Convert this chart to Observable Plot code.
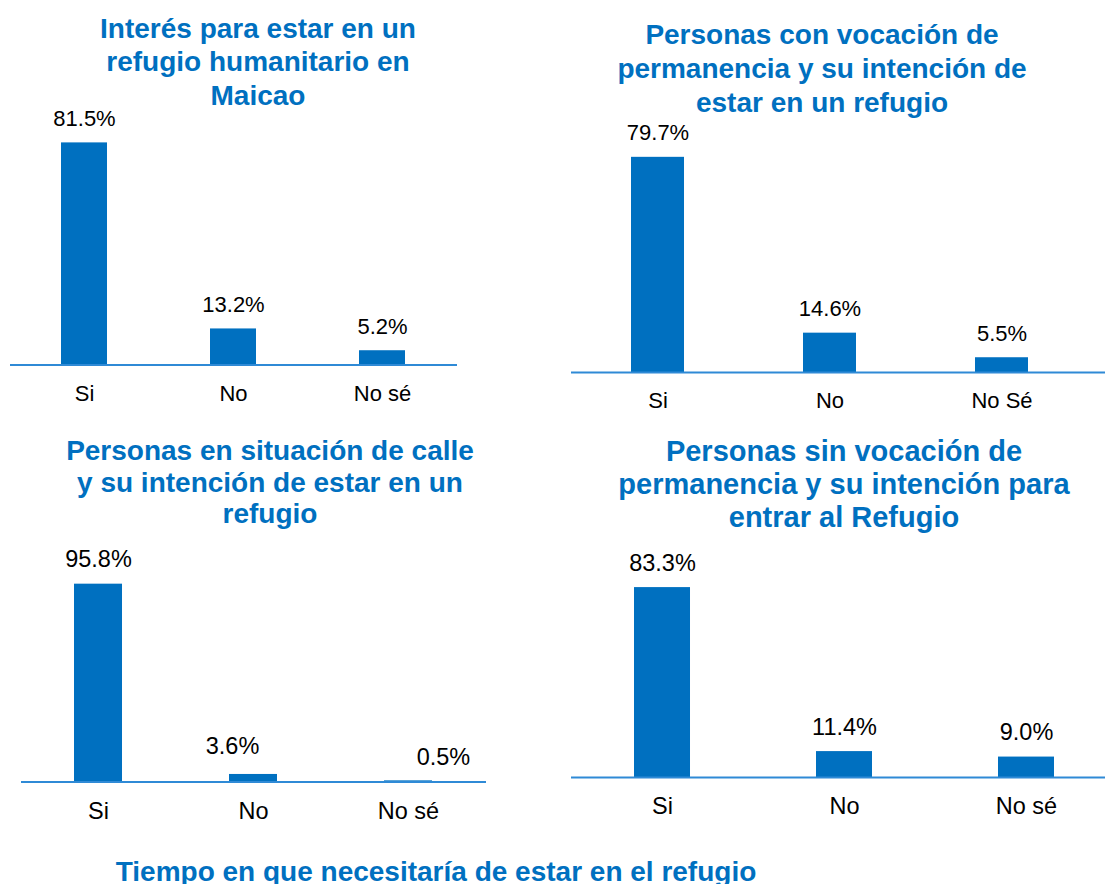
<!DOCTYPE html>
<html>
<head>
<meta charset="utf-8">
<script src="https://cdn.jsdelivr.net/npm/d3@7"></script>
<script src="https://cdn.jsdelivr.net/npm/@observablehq/plot@0.6"></script>
<style>
  html, body { margin: 0; padding: 0; background: #fff; overflow: hidden; }
  #wrap { position: relative; width: 1105px; height: 884px; overflow: hidden; background: #fff;
          font-family: "Liberation Sans", Arial, Helvetica, sans-serif; }
  .panel { position: absolute; }
  .panel svg { background: transparent; }
  .title { position: absolute; color: #0070C0; font-weight: bold; text-align: center; white-space: nowrap; z-index: 5; }
</style>
</head>
<body>
<div id="wrap"></div>
<script>
// ---- data ----
const cats1 = ["Si", "No", "No sé"];
const vals1 = [81.5, 13.2, 5.2];
const title1 = ["Interés para estar en un", "refugio humanitario en", "Maicao"];

const cats2 = ["Si", "No", "No Sé"];
const vals2 = [79.7, 14.6, 5.5];
const title2 = ["Personas con vocación de", "permanencia y su intención de", "estar en un refugio"];

const cats3 = ["Si", "No", "No sé"];
const vals3 = [95.8, 3.6, 0.5];
const title3 = ["Personas en situación de calle", "y su intención de estar en un", "refugio"];

const cats4 = ["Si", "No", "No sé"];
const vals4 = [83.3, 11.4, 9.0];
const title4 = ["Personas sin vocación de", "permanencia y su intención para", "entrar al Refugio"];

const title5 = ["Tiempo en que necesitaría de estar en el refugio"];

// ---- styling ----
const BAR = "#0070C0";
const AXIS = "#2F8AD6";
const wrap = document.getElementById("wrap");
const fmt = v => d3.format(".1f")(v) + "%";

function addTitle(lines, o) {
  const d = document.createElement("div");
  d.className = "title";
  d.style.fontSize = o.fs + "px";
  d.style.lineHeight = o.lh + "px";
  d.style.width = "1000px";
  d.style.left = (o.cx - 500) + "px";
  d.style.top = o.top + "px";
  d.innerHTML = lines.join("<br>");
  wrap.appendChild(d);
}

function addPanel(cats, vals, o) {
  const data = cats.map((c, i) => ({cat: c, val: vals[i]}));
  const mt = 30, mb = 50;
  const H = mt + 100 * o.k + mb;
  const textBase = {x: "cat", y: "val", text: d => fmt(d.val), lineAnchor: "bottom",
                    fontSize: o.fs, fill: "#000"};
  const labels = cats.map(c => Plot.text(data, {
    ...textBase,
    filter: d => d.cat === c,
    dy: (o.dy && o.dy[c] != null) ? o.dy[c] : -17,
    dx: (o.dx && o.dx[c] != null) ? o.dx[c] : 0
  }));
  const svg = Plot.plot({
    width: o.width,
    height: H,
    marginLeft: 0, marginRight: 0, marginTop: mt, marginBottom: mb,
    x: {domain: cats, range: [0, o.rangeW], paddingInner: 0.69, paddingOuter: 0.345, label: null},
    y: {domain: [0, 100], axis: null, label: null},
    style: {background: "transparent", fontFamily: '"Liberation Sans", Arial, sans-serif', color: "#000", overflow: "visible"},
    marks: [
      Plot.barY(data, {x: "cat", y: "val", fill: BAR}),
      Plot.ruleY([0], {stroke: AXIS, strokeWidth: 2}),
      Plot.axisX({tickSize: 0, tickPadding: 20, fontSize: o.fs, fill: "#000", label: null}),
      ...labels
    ]
  });
  const div = document.createElement("div");
  div.className = "panel";
  div.style.left = o.left + "px";
  div.style.top = (o.axisY - 100 * o.k - mt) + "px";
  div.style.width = o.width + "px";
  div.appendChild(svg);
  wrap.appendChild(div);
}

addPanel(cats1, vals1, {left: 10, width: 447, rangeW: 447, axisY: 364, k: 2.724, fs: 22});
addPanel(cats2, vals2, {left: 571, width: 534, rangeW: 517, axisY: 372, k: 2.701, fs: 22});
addPanel(cats3, vals3, {left: 21, width: 465, rangeW: 465, axisY: 781, k: 2.064, fs: 23.5,
                        dx: {"No": -21, "No sé": 35}, dy: {"No": -20, "No sé": -16}});
addPanel(cats4, vals4, {left: 571, width: 534, rangeW: 546.6, axisY: 777.3, k: 2.281, fs: 23.5});

addTitle(title1, {cx: 258, top: 11.5, fs: 28, lh: 33.5});
addTitle(title2, {cx: 822, top: 18.4, fs: 28, lh: 33.9});
addTitle(title3, {cx: 270, top: 435.4, fs: 28, lh: 31.2});
addTitle(title4, {cx: 844, top: 435, fs: 29, lh: 33.2});
addTitle(title5, {cx: 436, top: 855, fs: 28, lh: 33.6});
</script>
</body>
</html>
